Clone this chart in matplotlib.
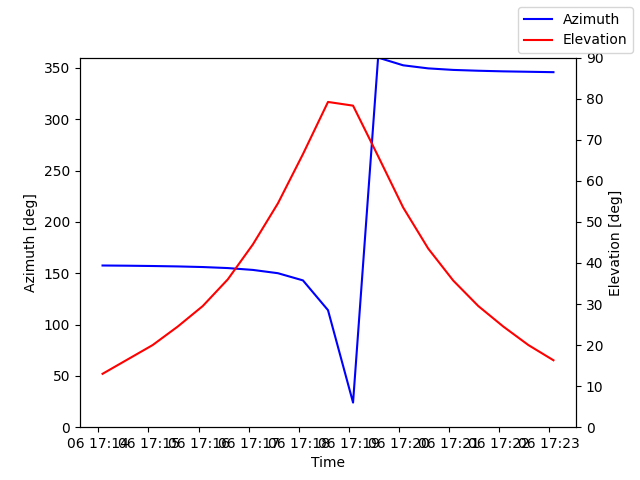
import matplotlib
matplotlib.use("Agg")
import matplotlib.pyplot as plt
import matplotlib.dates as mdates
import datetime as dt

start = dt.datetime(2024, 1, 6, 17, 14, 5)
times = [start + dt.timedelta(seconds=30 * i) for i in range(19)]
azimuth = [157.5, 157.3, 157.0, 156.6, 156.0, 155.0, 153.2, 150.0, 143.0, 114.0, 24.0,
           360.0, 352.5, 349.5, 348.0, 347.2, 346.6, 346.2, 345.8]
elevation = [13.0, 16.5, 20.0, 24.5, 29.5, 36.0, 44.5, 54.5, 66.5, 79.2, 78.3,
             66.0, 53.5, 43.5, 35.7, 29.5, 24.5, 20.0, 16.3]

fig, ax = plt.subplots(figsize=(6.4, 4.8), dpi=100)
l1, = ax.plot(times, azimuth, color="blue", label="Azimuth")
ax.set_ylim(0, 360)
ax.set_xlabel("Time")
ax.set_ylabel("Azimuth [deg]")
ax2 = ax.twinx()
l2, = ax2.plot(times, elevation, color="red", label="Elevation")
ax2.set_ylim(0, 90)
ax2.set_ylabel("Elevation [deg]")
ax.xaxis.set_major_locator(mdates.MinuteLocator())
ax.xaxis.set_major_formatter(mdates.DateFormatter("%d %H:%M"))
fig.legend(handles=[l1, l2], loc="upper right")
fig.savefig("out.png")
